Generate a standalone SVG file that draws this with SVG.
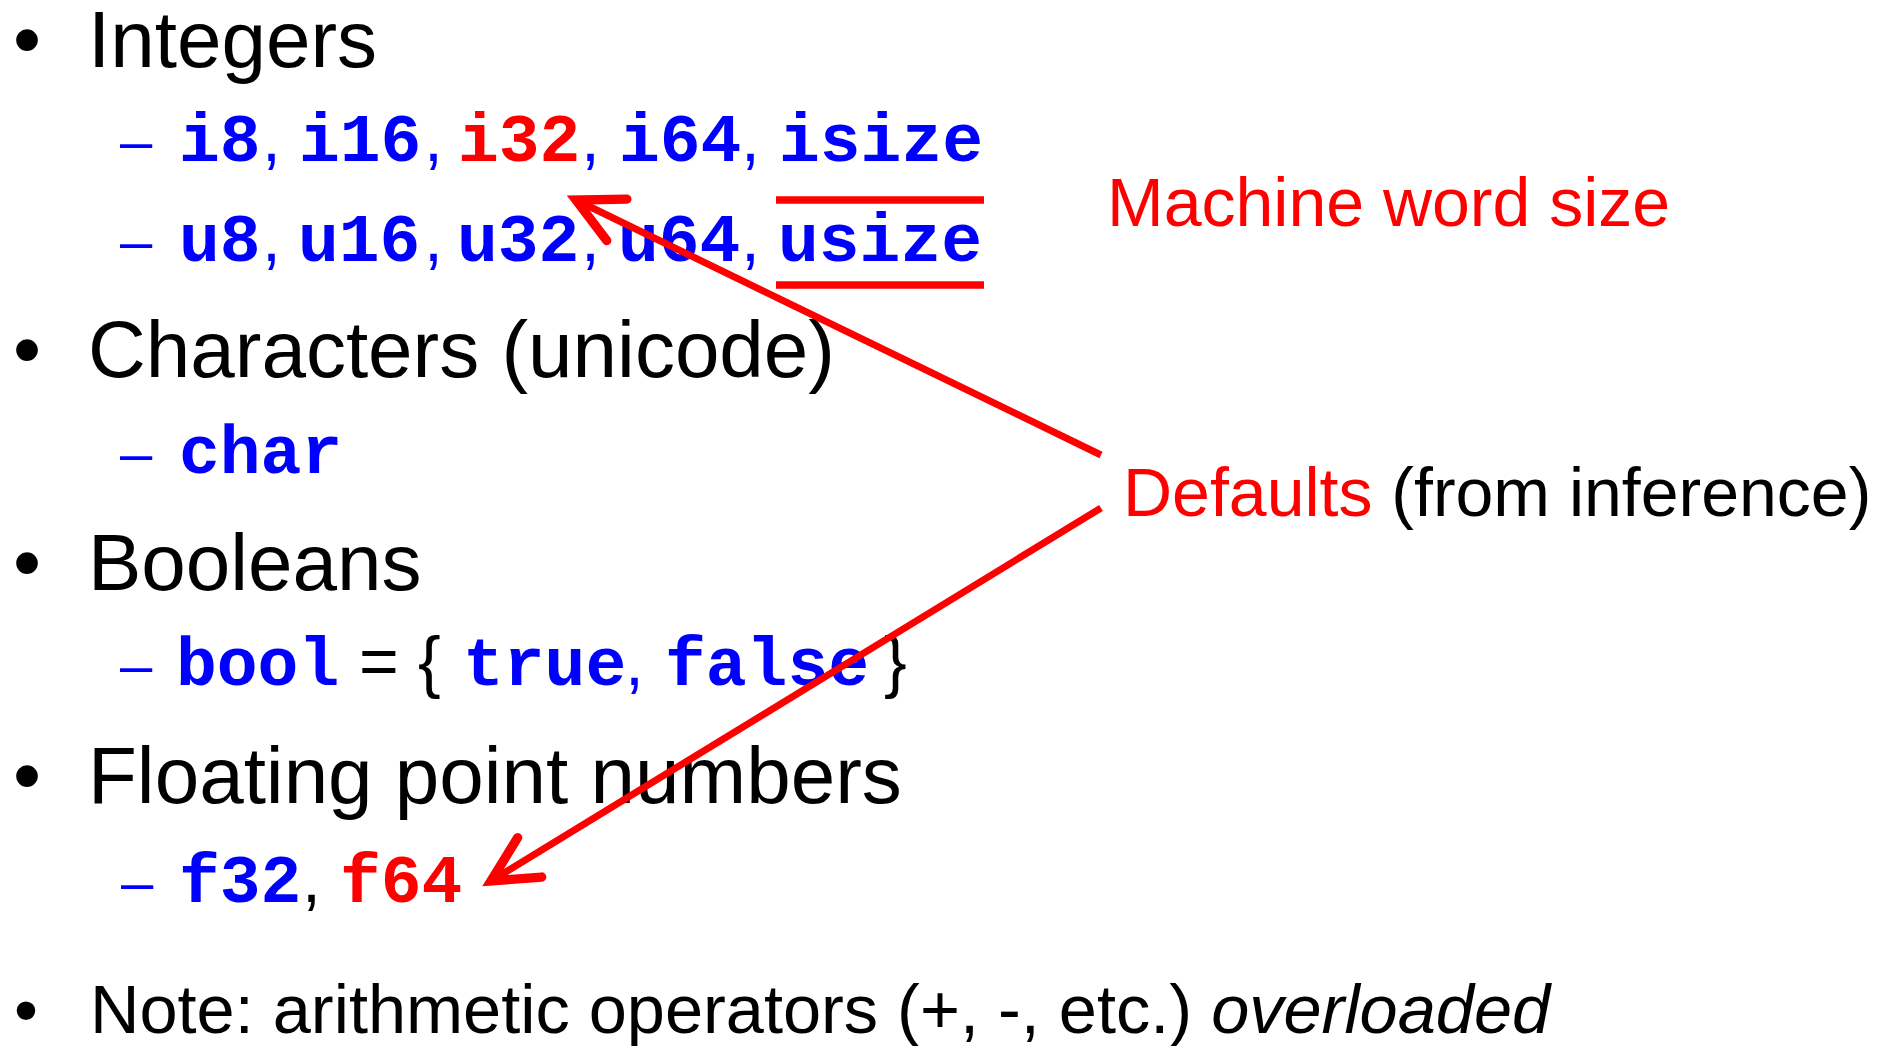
<svg xmlns="http://www.w3.org/2000/svg" width="1892" height="1046" viewBox="0 0 1892 1046">
<defs>
<style>
.s{font-family:"Liberation Sans",Arial,sans-serif;font-weight:normal;fill:#000}
.big{font-size:80px}
.mid{font-size:68px}
.note{font-size:68.5px}
.m{font-family:"Liberation Mono","Courier New",monospace;font-weight:bold;font-size:68px;fill:#0000ff}
.blue{fill:#0000ff}
.red{fill:#ff0000}
.dash{font-family:"Liberation Sans",Arial,sans-serif;font-size:58px;fill:#0000ff}
.conn{stroke:#ff0000;stroke-width:7;fill:none;stroke-linecap:butt}
.ul{stroke:#ff0000;stroke-width:7.5}
</style>
<marker id="ah" markerUnits="userSpaceOnUse" orient="auto" refX="0" refY="0" markerWidth="80" markerHeight="80" viewBox="-45 -30 60 60" overflow="visible">
<path d="M-34,-17.3 L0,0 L-34,17.3" fill="none" stroke="#ff0000" stroke-width="7" stroke-linecap="round" stroke-linejoin="miter"/>
</marker>
</defs>
<rect width="1892" height="1046" fill="#ffffff"/>

<g id="integers">
<text class="s big" x="13" y="67">•</text>
<text class="s big" x="88" y="67">Integers</text>
<text class="dash" x="120" y="161">–</text>
<text class="m" y="161"><tspan x="179">i8</tspan><tspan class="s mid blue" x="262">,</tspan><tspan x="299">i16</tspan><tspan class="s mid blue" x="424">,</tspan><tspan class="red" x="458">i32</tspan><tspan class="s mid blue" x="581">,</tspan><tspan x="619">i64</tspan><tspan class="s mid blue" x="741">,</tspan><tspan x="779">isize</tspan></text>
<text class="dash" x="120" y="261">–</text>
<text class="m" y="261"><tspan x="179">u8</tspan><tspan class="s mid blue" x="262">,</tspan><tspan x="298">u16</tspan><tspan class="s mid blue" x="424">,</tspan><tspan x="457">u32</tspan><tspan class="s mid blue" x="581">,</tspan><tspan x="618">u64</tspan><tspan class="s mid blue" x="741">,</tspan><tspan x="778">usize</tspan></text>
</g>

<g id="usize-marks">
<line class="ul" x1="776" y1="200" x2="984" y2="200"/>
<line class="ul" x1="776" y1="285" x2="984" y2="285"/>
</g>

<g id="characters">
<text class="s big" x="13" y="377">•</text>
<text class="s big" x="88" y="377">Characters (unicode)</text>
<text class="dash" x="120" y="473">–</text>
<text class="m" x="179" y="473">char</text>
</g>

<g id="booleans">
<text class="s big" x="13" y="590">•</text>
<text class="s big" x="88" y="590">Booleans</text>
<text class="dash" x="120" y="685">–</text>
<text class="m" y="685"><tspan x="176">bool</tspan><tspan class="s mid" x="359">=</tspan><tspan class="s mid" x="418">{</tspan><tspan x="463">true</tspan><tspan class="s mid blue" x="625">,</tspan><tspan x="665">false</tspan><tspan class="s mid" x="884">}</tspan></text>
</g>

<g id="floats">
<text class="s big" x="13" y="803">•</text>
<text class="s big" x="88" y="803">Floating point numbers</text>
<text class="dash" x="121" y="902">–</text>
<text class="m" y="902"><tspan x="179">f32</tspan><tspan class="s mid" x="302">,</tspan><tspan class="red" x="340">f64</tspan></text>
</g>

<g id="note">
<text class="s note" x="14" y="1033">•</text>
<text class="s note" x="90" y="1033">Note: arithmetic operators (+, -, etc.) <tspan font-style="italic">overloaded</tspan></text>
</g>

<g id="machine-word-size">
<text class="s mid red" x="1107" y="226">Machine word size</text>
</g>

<g id="defaults">
<text class="s mid" x="1123" y="516"><tspan class="red">Defaults</tspan> (from inference)</text>
</g>

<g id="connectors">
<line class="conn" x1="1101" y1="455" x2="576" y2="200" marker-end="url(#ah)"/>
<line class="conn" x1="1101" y1="508" x2="491" y2="881" marker-end="url(#ah)"/>
</g>
</svg>
